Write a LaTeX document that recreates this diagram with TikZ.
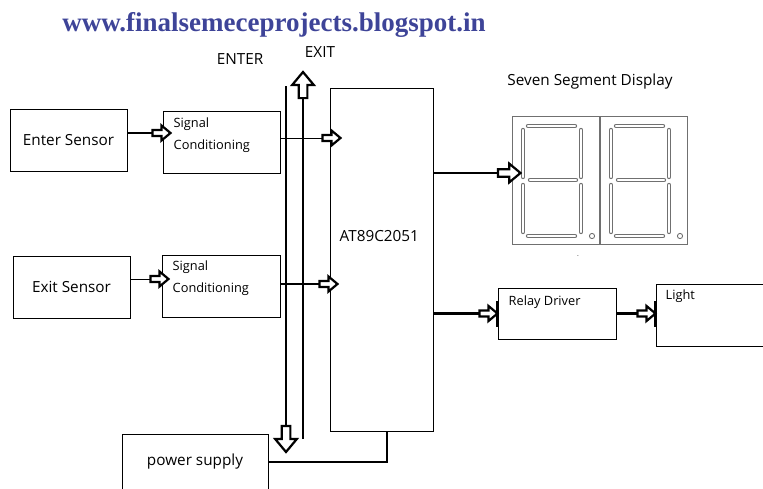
\documentclass[tikz,border=0pt]{standalone}
\usepackage{fontspec}
\setmainfont{Open Sans}
\newfontfamily\blogfont{Liberation Serif}
\usetikzlibrary{positioning, decorations.markings}
\definecolor{blogblue}{RGB}{62,68,152}
\definecolor{seggray}{RGB}{112,112,112}

\begin{document}
\begin{tikzpicture}[x=1pt, y=-1pt,
  font=\fontsize{15.3}{18}\selectfont,
  blk/.style={draw=black, rectangle, line width=1pt, inner sep=0pt},
  boxtxt/.style={font=\fontsize{12.8}{22}\selectfont, align=left, inner sep=0pt, anchor=north west},
  wire/.style={line width=1pt},
  fat/.style={line width=2.8pt},
  hollow/.style={postaction={decorate, decoration={markings, mark=at position 1 with {
      \draw[line width=2.2pt, fill=white, scale=#1] (-18pt,-3pt) -- (-9pt,-3pt) -- (-9pt,-7.5pt) -- (0pt,0pt)
        -- (-9pt,7.5pt) -- (-9pt,3pt) -- (-18pt,3pt) -- cycle;}}}},
  hollow/.default=1,
  tipbar/.style={postaction={decorate, decoration={markings, mark=at position 1 with {
      \draw[line width=2.2pt] (0pt,-13pt) -- (0pt,13pt);}}}},
  digit/.style={draw=seggray, line width=1.4pt, rectangle, inner sep=0pt, minimum width=87pt, minimum height=128pt},
  seg/.style={draw=seggray, line width=1pt, double=white, double distance=2.4pt, line cap=round}]

\useasboundingbox (0,0) rectangle (763,488);

% --- heading
\node[font=\blogfont\bfseries\fontsize{27}{30}\selectfont, text=blogblue] (title) at (274,25) {www.finalsemeceprojects.blogspot.in};

% --- sensors and conditioning
\node[blk, minimum width=117pt, minimum height=62pt] (ensen) at (68.5,140) {Enter Sensor};
\node[blk, minimum width=117pt, minimum height=62pt, right=35pt of ensen, yshift=-2pt] (sccone) {};
\node[boxtxt] (scconetxt) at ([shift={(11pt,-7pt)}]sccone.north west) {Signal\\Conditioning};
\node[blk, minimum width=117pt, minimum height=62pt] (exsen) at (71.5,287) {Exit Sensor};
\node[blk, minimum width=118pt, minimum height=62pt, right=31pt of exsen, yshift=1pt] (scctwo) {};
\node[boxtxt] (scctwotxt) at ([shift={(11pt,-6pt)}]scctwo.north west) {Signal\\Conditioning};

% --- controller and power
\node[blk, minimum width=103pt, minimum height=343pt] (mcu) at (381.5,259.5) {};
\node[anchor=west, inner sep=0pt] (mcutxt) at ([shift={(10pt,23pt)}]mcu.west) {AT89C2051};
\node[blk, minimum width=146pt, minimum height=56pt] (psu) at (195,462) {power supply};

% --- outputs
\node[blk, minimum width=118pt, minimum height=51pt] (relay) at (557,313.5) {};
\node[boxtxt] (relaytxt) at ([shift={(11pt,-8pt)}]relay.north west) {Relay Driver};
\node[blk, minimum width=115pt, minimum height=62pt, right=39pt of relay, yshift=-1.5pt] (light) {};
\node[boxtxt] (lighttxt) at ([shift={(10pt,-6pt)}]light.north west) {Light};

\node (seglbl) at (590,82) {Seven Segment Display};
\foreach \dx/\nm in {0/digone, 88/digtwo}{
  \begin{scope}[shift={(512+\dx,116)}]
    \node[digit, anchor=north west] (\nm) at (0,0) {};
    \draw[seg] (16,10) -- (63,10);
    \draw[seg] (11,14) -- (11,61);
    \draw[seg] (69,14) -- (69,61);
    \draw[seg] (18,64) -- (64,64);
    \draw[seg] (11,69) -- (11,116);
    \draw[seg] (69,69) -- (69,116);
    \draw[seg] (16,120) -- (63,120);
    \draw[seggray, line width=0.9pt] (80,120) circle (2.6pt);
  \end{scope}
}
\node[font=\tiny, inner sep=0pt] (segdash) at (578,257) {-};

% --- ENTER / EXIT lines
\coordinate (entertop) at (286,86);
\coordinate (enterbot) at (286,452);
\coordinate (exitbot) at (303,439);
\coordinate (exittop) at (303,72);
\node (enterlbl) at (240,59) {ENTER};
\node (exitlbl) at (320,52) {EXIT};

% --- connections
\draw[fat, hollow] ([yshift=7pt]ensen.east) -- ([shift={(8pt,9pt)}]sccone.west);
\draw[wire, hollow] ([yshift=4pt]sccone.east) -- ++(60,0);
\draw[wire, hollow] ([yshift=8pt]exsen.east) -- ++(38,0);
\draw[fat, hollow] ([yshift=2pt]scctwo.east) -- ++(57,0);
\draw[fat, hollow=1.45] (entertop) -- (enterbot);
\draw[fat, hollow=1.45] (exitbot) -- (exittop);
\draw[fat, hollow=1.25] ([yshift=86.5pt]mcu.east) -- ++(87,0);
\draw[fat, hollow, tipbar] (mcu.east |- relay.west) -- (relay.west);
\draw[fat, hollow, tipbar] (relay.east) -- (relay.east -| light.west);
\draw[fat] (psu.east) -| ([xshift=5.5pt]mcu.south);
\end{tikzpicture}
\end{document}
